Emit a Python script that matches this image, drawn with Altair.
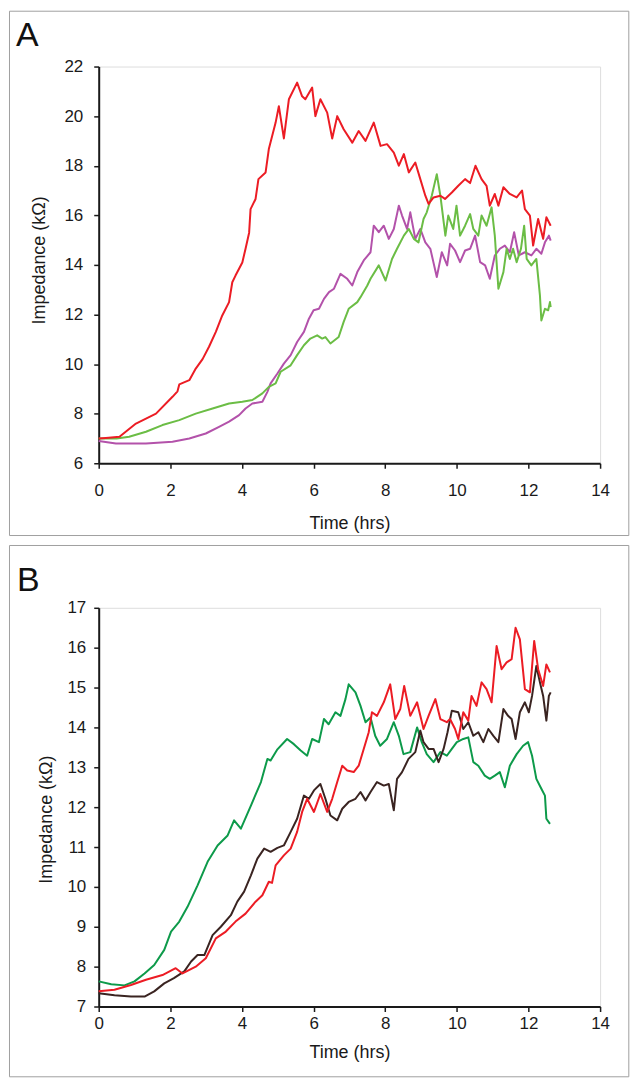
import altair as alt
import pandas as pd

FONT = "Liberation Sans"

# ---------------- Panel A ----------------
A_RED_T = [0.0, 0.2, 0.58, 1.04, 1.6, 2.06, 2.2, 2.25, 2.53, 2.71, 2.9, 3.08, 3.27, 3.45, 3.64, 3.73, 3.82, 4.01, 4.1, 4.2,
           4.24, 4.38, 4.46, 4.66, 4.75, 4.94, 5.03, 5.17, 5.31, 5.54, 5.68, 5.77, 5.96, 6.05, 6.19, 6.38, 6.52, 6.66, 6.84, 7.08,
           7.26, 7.45, 7.68, 7.87, 8.05, 8.24, 8.38, 8.52, 8.66, 8.84, 8.98, 9.12, 9.21, 9.35, 9.54, 9.67, 9.86, 10.04, 10.23, 10.37,
           10.52, 10.69, 10.83, 10.92, 11.06, 11.16, 11.3, 11.48, 11.67, 11.82, 11.9, 12.04, 12.13, 12.27, 12.41, 12.5, 12.62]
A_RED_V = [7.0, 7.02, 7.07, 7.6, 8.0, 8.68, 8.9, 9.18, 9.35, 9.82, 10.2, 10.7, 11.3, 11.96, 12.5, 13.3, 13.57, 14.1, 14.65, 15.3,
           16.25, 16.66, 17.46, 17.73, 18.67, 19.74, 20.4, 19.1, 20.68, 21.35, 20.8, 20.68, 21.15, 20.0, 20.68, 20.14, 19.1, 20.0, 19.47, 18.93,
           19.4, 19.0, 19.74, 18.8, 18.87, 18.53, 18.0, 18.47, 17.73, 18.13, 17.46, 16.79, 16.46, 16.72, 16.79, 16.66, 16.92, 17.19, 17.46, 17.3,
           18.0, 17.46, 17.19, 16.39, 16.86, 16.39, 17.13, 16.86, 16.72, 17.0, 16.25, 15.99, 14.78, 15.85, 15.05, 15.92, 15.58]

A_GREEN_T = [0.0, 0.5, 0.85, 1.32, 1.78, 2.25, 2.71, 3.18, 3.64, 4.01, 4.29, 4.57, 4.75, 4.94, 5.08, 5.36, 5.54, 5.73, 5.91, 6.1,
             6.24, 6.33, 6.47, 6.7, 6.84, 6.98, 7.22, 7.31, 7.5, 7.59, 7.82, 8.01, 8.19, 8.33, 8.52, 8.66, 8.8, 8.93, 9.07, 9.16,
             9.3, 9.44, 9.54, 9.68, 9.76, 9.9, 9.99, 10.09, 10.23, 10.37, 10.46, 10.6, 10.69, 10.83, 10.97, 11.06, 11.16, 11.3, 11.39, 11.48,
             11.57, 11.67, 11.79, 11.88, 11.95, 12.08, 12.22, 12.32, 12.36, 12.46, 12.55, 12.6, 12.62]
A_GREEN_V = [7.0, 7.0, 7.07, 7.27, 7.54, 7.74, 8.0, 8.21, 8.41, 8.48, 8.55, 8.82, 9.08, 9.22, 9.69, 9.95, 10.36, 10.76, 11.03, 11.16,
             11.03, 11.09, 10.83, 11.09, 11.7, 12.23, 12.5, 12.7, 13.17, 13.44, 13.98, 13.37, 14.24, 14.65, 15.18, 15.45, 15.05, 14.91, 15.85, 16.12,
             16.79, 17.66, 16.79, 15.18, 15.99, 15.45, 16.39, 15.18, 15.58, 16.05, 15.45, 15.18, 15.99, 15.58, 16.32, 15.18, 13.04, 13.71, 14.65, 14.24,
             14.65, 14.11, 14.65, 15.58, 14.24, 13.98, 14.24, 12.77, 11.76, 12.23, 12.17, 12.5, 12.3]

A_MAG_T = [0.0, 0.48, 1.32, 2.06, 2.53, 2.99, 3.36, 3.64, 3.92, 4.1, 4.29, 4.57, 4.71, 4.8, 4.99, 5.17, 5.36, 5.54, 5.73, 5.87,
           6.0, 6.15, 6.29, 6.43, 6.57, 6.75, 6.94, 7.08, 7.22, 7.4, 7.59, 7.68, 7.82, 7.96, 8.1, 8.24, 8.38, 8.47, 8.61, 8.7,
           8.84, 8.98, 9.12, 9.26, 9.44, 9.58, 9.73, 9.81, 9.95, 10.09, 10.23, 10.37, 10.51, 10.65, 10.79, 10.92, 11.06, 11.2, 11.34, 11.48,
           11.6, 11.73, 11.9, 12.08, 12.22, 12.36, 12.46, 12.57, 12.62]
A_MAG_V = [6.9, 6.8, 6.8, 6.87, 7.0, 7.2, 7.47, 7.68, 7.94, 8.21, 8.41, 8.48, 8.88, 9.22, 9.62, 10.02, 10.36, 10.89, 11.3, 11.83,
           12.17, 12.23, 12.63, 12.9, 13.04, 13.64, 13.44, 13.17, 13.71, 14.18, 14.51, 15.58, 15.32, 15.58, 15.05, 15.45, 16.39, 15.99, 15.45, 16.12,
           15.05, 15.45, 14.91, 14.65, 13.51, 14.51, 13.98, 14.85, 14.58, 14.11, 14.58, 14.65, 15.18, 14.11, 13.98, 13.44, 14.38, 14.65, 14.78, 14.51,
           15.32, 14.38, 14.51, 14.38, 14.65, 14.45, 14.91, 15.18, 14.98]

# ---------------- Panel B ----------------
B_GREEN_T = [0.0, 0.35, 0.72, 1.0, 1.28, 1.55, 1.83, 2.02, 2.25, 2.48, 2.76, 3.04, 3.32, 3.6, 3.78, 3.97, 4.25, 4.53, 4.71, 4.8,
             4.99, 5.26, 5.45, 5.64, 5.82, 5.96, 6.15, 6.29, 6.42, 6.61, 6.75, 6.89, 6.98, 7.17, 7.31, 7.45, 7.59, 7.72, 7.86, 8.05,
             8.24, 8.38, 8.51, 8.7, 8.89, 9.02, 9.16, 9.35, 9.54, 9.72, 9.86, 10.0, 10.18, 10.32, 10.46, 10.6, 10.78, 10.92, 11.06, 11.2,
             11.34, 11.48, 11.67, 11.85, 11.99, 12.1, 12.22, 12.36, 12.46, 12.5, 12.6]
B_GREEN_V = [7.63, 7.56, 7.53, 7.63, 7.83, 8.04, 8.42, 8.88, 9.13, 9.5, 10.04, 10.63, 11.04, 11.29, 11.67, 11.46, 12.04, 12.63, 13.21, 13.17,
             13.45, 13.71, 13.58, 13.42, 13.29, 13.71, 13.63, 14.21, 14.08, 14.38, 14.29, 14.71, 15.08, 14.88, 14.54, 14.13, 14.25, 13.79, 13.54, 13.71,
             14.13, 13.79, 13.33, 13.38, 14.0, 13.63, 13.33, 13.13, 13.38, 13.29, 13.46, 13.63, 13.71, 13.75, 13.13, 13.04, 12.79, 12.71, 12.79, 12.88,
             12.5, 13.04, 13.33, 13.54, 13.63, 13.29, 12.71, 12.46, 12.29, 11.71, 11.58]

B_RED_T = [0.0, 0.44, 0.9, 1.32, 1.78, 2.15, 2.34, 2.71, 2.99, 3.27, 3.55, 3.82, 4.1, 4.38, 4.57, 4.75, 4.84, 4.94, 5.17, 5.36,
           5.54, 5.68, 5.82, 6.01, 6.19, 6.38, 6.52, 6.66, 6.8, 6.94, 7.12, 7.26, 7.4, 7.54, 7.63, 7.77, 7.96, 8.14, 8.28, 8.42,
           8.53, 8.7, 8.89, 9.07, 9.21, 9.4, 9.54, 9.72, 9.81, 9.95, 10.04, 10.18, 10.32, 10.41, 10.55, 10.69, 10.83, 10.97, 11.11, 11.25,
           11.39, 11.53, 11.64, 11.76, 11.9, 12.04, 12.16, 12.27, 12.41, 12.5, 12.6]
B_RED_V = [7.38, 7.42, 7.54, 7.67, 7.79, 7.96, 7.83, 8.0, 8.21, 8.71, 8.88, 9.13, 9.33, 9.63, 9.79, 10.13, 10.1, 10.54, 10.79, 10.96,
           11.38, 11.88, 12.21, 11.88, 12.33, 11.88, 12.21, 12.63, 13.04, 12.92, 12.88, 13.04, 13.46, 13.88, 14.38, 14.29, 14.63, 15.08, 14.21, 14.46,
           15.04, 14.29, 14.63, 13.96, 14.29, 14.71, 14.21, 14.13, 14.21, 13.96, 13.71, 14.38, 14.17, 14.79, 14.54, 15.13, 14.96, 14.63, 16.04, 15.46,
           15.63, 15.71, 16.5, 16.21, 14.96, 14.88, 16.17, 15.46, 15.04, 15.58, 15.38]

B_DARK_T = [0.0, 0.44, 0.9, 1.28, 1.55, 1.83, 2.1, 2.39, 2.58, 2.76, 2.95, 3.18, 3.41, 3.69, 3.87, 4.06, 4.25, 4.43, 4.62, 4.8,
            4.99, 5.17, 5.36, 5.54, 5.73, 5.87, 6.01, 6.19, 6.33, 6.47, 6.66, 6.8, 6.98, 7.17, 7.31, 7.45, 7.59, 7.77, 7.96, 8.1,
            8.24, 8.33, 8.47, 8.65, 8.84, 8.98, 9.07, 9.21, 9.35, 9.49, 9.63, 9.74, 9.86, 10.04, 10.18, 10.32, 10.46, 10.6, 10.74, 10.88,
            11.02, 11.16, 11.3, 11.43, 11.53, 11.64, 11.76, 11.9, 12.01, 12.1, 12.22, 12.32, 12.41, 12.5, 12.57, 12.62]
B_DARK_V = [7.33, 7.28, 7.25, 7.25, 7.38, 7.58, 7.71, 7.88, 8.13, 8.29, 8.29, 8.79, 9.0, 9.29, 9.63, 9.88, 10.29, 10.71, 10.96, 10.88,
            10.98, 11.04, 11.38, 11.71, 12.29, 12.21, 12.42, 12.58, 12.21, 11.79, 11.67, 11.96, 12.13, 12.21, 12.38, 12.17, 12.38, 12.63, 12.54, 12.58,
            11.92, 12.71, 12.88, 13.21, 13.38, 13.92, 13.63, 13.46, 13.46, 13.13, 13.46, 13.88, 14.42, 14.38, 13.96, 14.13, 13.79, 13.88, 13.63, 13.96,
            13.79, 13.63, 14.46, 14.29, 14.21, 13.71, 14.38, 14.63, 14.38, 14.79, 15.54, 15.13, 14.79, 14.17, 14.79, 14.88]

X_TICKS = [0, 2, 4, 6, 8, 10, 12, 14]
A_Y_TICKS = [6, 8, 10, 12, 14, 16, 18, 20, 22]
B_Y_TICKS = [7, 8, 9, 10, 11, 12, 13, 14, 15, 16, 17]


def df(ts, vs):
    return pd.DataFrame({"t": ts, "v": vs})


def panel(series, label, ydom, yticks, w, h, box, lab_xy, xlabpad, xtitley, ylabpad, ytitlexy):
    one = pd.DataFrame({"k": [0]})
    xaxis = alt.Axis(values=X_TICKS, title="Time (hrs)", grid=False, labelFont=FONT, labelFontSize=17,
                     labelColor="#1a1a1a", labelPadding=xlabpad, tickSize=5, tickWidth=1.5, tickColor="#1a1a1a",
                     domainColor="#1a1a1a", domainWidth=2, titleFont=FONT, titleFontSize=18, titleFontWeight="normal",
                     titleColor="#1a1a1a", titleX=w / 2, titleY=xtitley, titleBaseline="middle", titleAlign="center",
                     labelFlush=False)
    yaxis = alt.Axis(values=yticks, title="Impedance (kΩ)", grid=False, labelFont=FONT, labelFontSize=17,
                     labelColor="#1a1a1a", labelPadding=ylabpad, tickSize=5, tickWidth=1.5, tickColor="#1a1a1a",
                     domainColor="#1a1a1a", domainWidth=2, titleFont=FONT, titleFontSize=18, titleFontWeight="normal",
                     titleColor="#1a1a1a", titleX=ytitlexy[0], titleY=ytitlexy[1], titleAngle=270,
                     titleBaseline="middle", titleAlign="center", labelFlush=False)
    xscale = alt.Scale(domain=[0, 14], nice=False, zero=False)
    yscale = alt.Scale(domain=ydom, nice=False, zero=False)
    layers = [
        alt.Chart(one).mark_rect(fill="white", fillOpacity=0, stroke="#a0a0a0", strokeWidth=1).encode(
            x=alt.value(box[0]), x2=alt.value(box[1]), y=alt.value(box[2]), y2=alt.value(box[3])),
        alt.Chart(one).mark_text(text=label, font=FONT, fontSize=34, align="left", baseline="middle",
                                 color="#111111").encode(x=alt.value(lab_xy[0]), y=alt.value(lab_xy[1])),
    ]
    for (ts, vs, col) in series:
        layers.append(alt.Chart(df(ts, vs)).mark_line(color=col, strokeWidth=2.0, strokeJoin="round").encode(
            x=alt.X("t:Q", scale=xscale, axis=xaxis),
            y=alt.Y("v:Q", scale=yscale, axis=yaxis),
            order="t:Q"))
    return alt.layer(*layers).properties(width=w, height=h)


W = 503
panel_a = panel(
    [(A_MAG_T, A_MAG_V, "#b352aa"), (A_GREEN_T, A_GREEN_V, "#6bbd45"), (A_RED_T, A_RED_V, "#ec1c24")],
    "A", [6, 22], A_Y_TICKS, W, 398,
    box=(-89.5, 531.8, -55.5, 470.5), lab_xy=(-83, -31),
    xlabpad=14, xtitley=60, ylabpad=11, ytitlexy=(-59, 194))

panel_b = panel(
    [(B_GREEN_T, B_GREEN_V, "#0d9a4a"), (B_DARK_T, B_DARK_V, "#3a2421"), (B_RED_T, B_RED_V, "#ec1c24")],
    "B", [7, 17], B_Y_TICKS, W, 400,
    box=(-89.5, 531.8, -62.5, 470.5), lab_xy=(-82, -27),
    xlabpad=4, xtitley=46, ylabpad=8, ytitlexy=(-52, 212))

chart = alt.vconcat(panel_a, panel_b, spacing=7).resolve_scale(x="independent", y="independent").properties(
    padding=0
).configure_view(strokeWidth=0).configure(background="white")

chart.save("out.html", embed_options={"renderer": "svg", "actions": False})
